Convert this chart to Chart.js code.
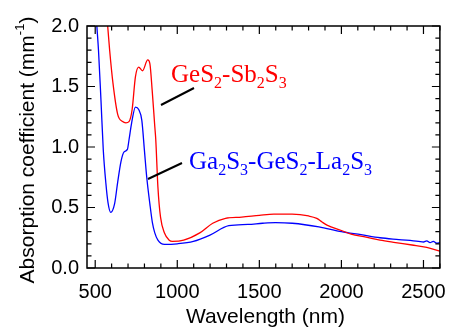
<!DOCTYPE html>
<html>
<head>
<meta charset="utf-8">
<script src="https://cdn.jsdelivr.net/npm/chart.js@4.4.1/dist/chart.umd.min.js"></script>
<style>
  html, body { margin: 0; padding: 0; background: #fff; }
  #wrap { width: 458px; height: 329px; }
</style>
</head>
<body>
<div id="wrap"><canvas id="absChart" width="458" height="329"></canvas></div>
<script>
// wavelength (nm) and absorption coefficient (mm^-1)
var redWl = [566, 576, 588, 608, 637, 667, 687, 706, 725, 745, 765, 788, 820, 833, 847, 863, 869, 882, 898, 922, 951, 970,
  1039, 1137, 1216, 1294, 1392, 1500, 1588, 1700, 1800, 1850, 1882, 1912, 2000, 2059, 2150, 2235, 2330, 2430, 2520, 2600];
var redAbs = [2.15, 2.0, 1.80, 1.53, 1.27, 1.21, 1.20, 1.21, 1.31, 1.58, 1.66, 1.63, 1.72, 1.69, 1.47, 1.17, 1.06, 0.67, 0.42, 0.29, 0.23, 0.22,
  0.23, 0.29, 0.37, 0.41, 0.42, 0.435, 0.445, 0.445, 0.43, 0.41, 0.38, 0.355, 0.31, 0.28, 0.255, 0.23, 0.21, 0.19, 0.17, 0.14];

var blueWl = [503, 510, 520, 535, 549, 565, 578, 594, 618, 637, 657, 676, 696, 706, 722, 745, 765, 784, 800, 814, 833, 849, 863, 882,
  922, 1000, 1098, 1196, 1314, 1431, 1520, 1598, 1700, 1863, 2000, 2120, 2235, 2350, 2470, 2500, 2520, 2540, 2560, 2580, 2600];
var blueAbs = [2.15, 2.0, 1.80, 1.39, 0.98, 0.70, 0.54, 0.46, 0.53, 0.71, 0.88, 0.96, 0.98, 1.06, 1.20, 1.33, 1.31, 1.22, 0.97, 0.75, 0.53, 0.37, 0.29, 0.23,
  0.195, 0.20, 0.22, 0.27, 0.35, 0.36, 0.37, 0.375, 0.37, 0.34, 0.30, 0.275, 0.25, 0.235, 0.22, 0.215, 0.225, 0.21, 0.22, 0.205, 0.21];

var xTicks = [500, 1000, 1500, 2000, 2500];
var yTicks = [0.0, 0.5, 1.0, 1.5, 2.0];

function pts(xs, ys) {
  return xs.map(function (x, i) { return { x: x, y: ys[i] }; });
}

// subscript-aware text: parts = [[text, isSub], ...]
function richText(ctx, parts, x, y, size, color) {
  ctx.save();
  ctx.fillStyle = color;
  ctx.textBaseline = 'alphabetic';
  ctx.textAlign = 'left';
  parts.forEach(function (p) {
    if (p[1]) {
      ctx.font = Math.round(size * 0.62) + 'px "Liberation Serif", "Times New Roman", serif';
      ctx.fillText(p[0], x, y + size * 0.22);
    } else {
      ctx.font = size + 'px "Liberation Serif", "Times New Roman", serif';
      ctx.fillText(p[0], x, y);
    }
    x += ctx.measureText(p[0]).width;
  });
  ctx.restore();
}

var framePlugin = {
  id: 'frame',
  afterDraw: function (chart) {
    var ctx = chart.ctx, a = chart.chartArea;
    var xs = chart.scales.x, ys = chart.scales.y;
    ctx.save();
    ctx.strokeStyle = '#000';
    ctx.lineWidth = 1.5;
    ctx.strokeRect(a.left, a.top, a.right - a.left, a.bottom - a.top);

    ctx.lineWidth = 1.2;
    ctx.beginPath();
    for (var v = 500; v <= 2600; v += 100) {
      var px = xs.getPixelForValue(v);
      var len = (v % 500 === 0) ? 8 : 4.5;
      ctx.moveTo(px, a.bottom); ctx.lineTo(px, a.bottom - len);
      ctx.moveTo(px, a.top); ctx.lineTo(px, a.top + len);
    }
    for (var k = 0; k <= 20; k++) {
      var py = ys.getPixelForValue(k / 10);
      var l2 = (k % 5 === 0) ? 8 : 4.5;
      ctx.moveTo(a.left, py); ctx.lineTo(a.left + l2, py);
      ctx.moveTo(a.right, py); ctx.lineTo(a.right - l2, py);
    }
    ctx.stroke();

    // leader lines
    ctx.lineWidth = 2;
    ctx.beginPath();
    ctx.moveTo(161, 105); ctx.lineTo(194, 88);
    ctx.moveTo(148, 179); ctx.lineTo(182, 163);
    ctx.stroke();

    // axis titles
    ctx.fillStyle = '#000';
    ctx.font = '21px "Liberation Sans", Arial, sans-serif';
    ctx.textAlign = 'center';
    ctx.textBaseline = 'alphabetic';
    ctx.fillText('Wavelength (nm)', (a.left + a.right) / 2 + 2, 323);

    ctx.translate(34, 150);
    ctx.rotate(-Math.PI / 2);
    var main = 'Absorption coefficient (mm';
    ctx.font = '21px "Liberation Sans", Arial, sans-serif';
    var w1 = ctx.measureText(main).width;
    ctx.font = '13px "Liberation Sans", Arial, sans-serif';
    var w2 = ctx.measureText('-1').width;
    ctx.font = '21px "Liberation Sans", Arial, sans-serif';
    var w3 = ctx.measureText(')').width;
    var sx = -(w1 + w2 + w3) / 2;
    ctx.textAlign = 'left';
    ctx.fillText(main, sx, 0);
    ctx.font = '13px "Liberation Sans", Arial, sans-serif';
    ctx.fillText('-1', sx + w1, -10);
    ctx.font = '21px "Liberation Sans", Arial, sans-serif';
    ctx.fillText(')', sx + w1 + w2, 0);
    ctx.restore();

    richText(ctx, [['GeS', 0], ['2', 1], ['-Sb', 0], ['2', 1], ['S', 0], ['3', 1]], 171, 82, 25, '#ff0000');
    richText(ctx, [['Ga', 0], ['2', 1], ['S', 0], ['3', 1], ['-GeS', 0], ['2', 1], ['-La', 0], ['2', 1], ['S', 0], ['3', 1]], 189, 169, 25, '#0000ff');
  }
};

new Chart(document.getElementById('absChart').getContext('2d'), {
  type: 'line',
  data: {
    datasets: [{
      label: 'GeS2-Sb2S3',
      data: pts(redWl, redAbs),
      borderColor: '#ff0000',
      borderWidth: 1.3,
      pointRadius: 0,
      fill: false,
      cubicInterpolationMode: 'monotone'
    }, {
      label: 'Ga2S3-GeS2-La2S3',
      data: pts(blueWl, blueAbs),
      borderColor: '#0000ff',
      borderWidth: 1.3,
      pointRadius: 0,
      fill: false,
      cubicInterpolationMode: 'monotone'
    }]
  },
  options: {
    responsive: false,
    animation: false,
    layout: { padding: { left: 0, top: 26, right: 6, bottom: 0 } },
    plugins: { legend: { display: false }, tooltip: { enabled: false } },
    scales: {
      x: {
        type: 'linear',
        min: 450,
        max: 2600,
        grid: { display: false, drawTicks: false },
        border: { display: false },
        afterBuildTicks: function (s) { s.ticks = xTicks.map(function (v) { return { value: v }; }); },
        afterFit: function (s) { s.height = 61; },
        ticks: {
          padding: 12,
          maxRotation: 0,
          color: '#000',
          font: { family: '"Liberation Sans", Arial, sans-serif', size: 20 },
          callback: function (v) { return String(v); }
        }
      },
      y: {
        min: 0,
        max: 2.0,
        grid: { display: false, drawTicks: false },
        border: { display: false },
        afterBuildTicks: function (s) { s.ticks = yTicks.map(function (v) { return { value: v }; }); },
        afterFit: function (s) { s.width = 87; },
        ticks: {
          padding: 8,
          color: '#000',
          font: { family: '"Liberation Sans", Arial, sans-serif', size: 20 },
          callback: function (v) { return Number(v).toFixed(1); }
        }
      }
    }
  },
  plugins: [framePlugin]
});
</script>
</body>
</html>
